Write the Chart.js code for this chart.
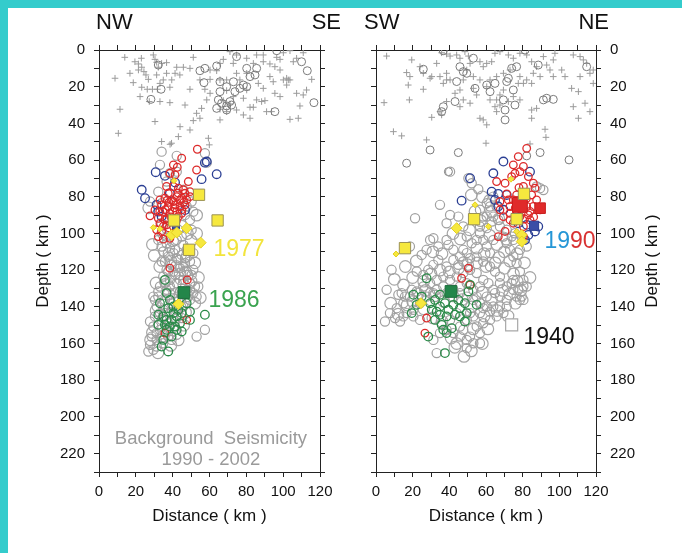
<!DOCTYPE html>
<html>
<head>
<meta charset="utf-8">
<script src="https://cdn.jsdelivr.net/npm/chart.js@4.4.1/dist/chart.umd.min.js"></script>
<style>
  html, body { margin: 0; padding: 0; background: #ffffff; }
  #wrap { position: relative; width: 682px; height: 553px; overflow: hidden; background: #ffffff; }
  .bandTop { position: absolute; left: 0; top: 0; width: 682px; height: 8px; background: rgb(52, 204, 204); }
  .bandLeft { position: absolute; left: 0; top: 0; width: 8px; height: 553px; background: rgb(52, 204, 204); }
  canvas { position: absolute; top: 0; }
  #cL { left: 0; }
  #cR { left: 341px; }
</style>
</head>
<body>
<div id="wrap">
  <div class="bandTop"></div>
  <div class="bandLeft"></div>
  <canvas id="cL" width="341" height="553"></canvas>
  <canvas id="cR" width="341" height="553"></canvas>
</div>
<script>
// ---------- axis ticks ----------
const distanceTicks = [0, 10, 20, 30, 40, 50, 60, 70, 80, 90, 100, 110, 120];
const depthTicks = [0, 10, 20, 30, 40, 50, 60, 70, 80, 90, 100, 110, 120, 130, 140, 150, 160, 170, 180, 190, 200, 210, 220, 230];

// ---------- NW - SE section (left panel) ----------
const nwCrosses = [[14,4],[23,4.5],[29.5,2.7],[30.4,5.1],[31.3,6.7],[34,7.3],[19.5,6.4],[21.4,7.6],[23.2,9.4],[24.4,11.8],[25.5,13.6],[16.8,12.7],[8.7,15.4],[18.6,17.8],[23.2,20.3],[26.2,21.4],[29,21.4],[31.7,21.4],[33.1,18.2],[36.7,12.7],[41.3,12.7],[34.9,16.3],[38.5,20.3],[11.4,32.3],[10.5,45.4],[30.4,39],[33.1,28.1],[38.5,28.7],[46.7,30],[49.4,21.4],[49.4,10],[45.8,9.4],[43.9,13.6],[51.2,4],[44,41.8],[49.4,43.6],[39.4,50.8],[43.1,47.2],[34,49.9],[59.4,48.1],[59.9,51.7],[53,34.5],[54.8,37.2],[51.2,38.5],[58.5,27.2],[60.3,23.6],[57.5,21.4],[55.7,31.8],[65.7,38.1],[69.3,33.6],[74.7,32.7],[78.4,35.4],[82,37.2],[83.8,31.2],[88.3,28.1],[90.1,27.6],[91,33.6],[93.7,33.6],[98.3,25.4],[103.7,37.8],[108.2,37.2],[109.1,30.5],[110.9,24.5],[112.7,21.8],[115.5,16],[103.7,16.3],[101.9,15.4],[100.1,16.3],[98.3,10.9],[92.8,14.5],[89.2,6.4],[89.2,2.7],[92.8,7.6],[95.5,9.1],[98.3,5.1],[105.5,6.4],[107.3,4.5],[110.9,1.5],[103.7,0.4],[100.1,1.5],[96.5,4],[85.6,2.7],[83.8,7.3],[80.2,4.5],[74.7,2.7],[71.1,0.9],[67.5,5.1],[65.7,7.3],[63.9,11.3],[60.3,16],[65.7,16.3],[69.3,16.3],[74.7,12.7],[76.5,16.3],[80.2,21.8],[72.9,25.4],[69.3,22.1],[67.5,27.6],[71.1,29.4],[65.7,32.3],[78.4,26.3],[82,31.2],[85.6,27.2],[21.4,10.9],[26.8,16],[31.3,13.6],[36.7,6.9],[32.2,9.4],[42.2,9.4],[39.5,16.3],[22.3,25.4],[27.3,28.1],[54.8,16.3],[60.3,10.9],[72.9,7.3],[80.2,12.7],[86.5,18.2],[89.2,20.9],[95.5,23.6],[101.9,19.1],[107.3,23.6],[94.6,17.3],[102.8,16.3],[38.6,51.4]];
const nwShallowCircles = [[54.8,11.3],[57.5,10],[63.9,8.7],[57,17.8],[65.7,17.3],[65.7,22.7],[69.3,20],[73.8,22.7],[76.5,20.9],[78.4,19.1],[82,14.5],[80.2,10],[84.7,13.6],[85.6,10],[74.7,3.6],[64.8,27.2],[63.9,31.8],[66.6,29],[69.3,30.5],[71.1,28.1],[72,30],[69.3,32.7],[95.5,33.6],[96.5,0.4],[110,6.4],[113.1,11.3],[116.7,28.7],[33.7,21.4],[28.2,26.9],[32.2,8.2],[73,17.3],[80.2,20]];
const nwGrayCircles = [[34,55.4],[42.2,57.7],[57.5,56.3],[58.5,61.4],[33.1,62.6],[38.5,67.2],[42.2,66.3],[32.2,77.2],[27.7,82.6],[51.2,88.1],[49.4,92.6],[32.2,103.5],[34,107.1],[36.7,105.3],[38.5,108],[42.2,103.5],[45.8,106.2],[34.9,109.8],[37.6,112.6],[40.4,110.7],[44.9,111.7],[47.6,108.9],[51.2,110.7],[35.8,115.3],[39.4,117.1],[43.1,114.4],[46.7,116.2],[49.4,115.3],[36.7,119.8],[40.4,120.7],[44,118.9],[47.6,120.7],[50.3,122.6],[34.9,123.5],[38.5,125.3],[42.2,127.1],[45.8,125.3],[49.4,127.1],[52.1,128.9],[33.1,128.9],[36.7,130.7],[40.4,132.5],[44,131.6],[47.6,130.7],[51.2,132.5],[32.2,134.4],[35.8,136.2],[39.4,138],[43.1,137.1],[49.4,136.2],[53,134.4],[31.3,139.8],[34.9,141.6],[38.5,143.4],[42.2,141.6],[45.8,139.8],[30.4,145.2],[34,147.1],[37.6,148.9],[41.3,147.9],[44.9,146.1],[29.5,150.7],[33.1,152.5],[36.7,153.4],[40.4,151.6],[28.6,156.2],[31.3,158],[34,157.1],[37.6,156.2],[27.7,160.7],[31.3,161.6],[34.9,159.8],[26.8,164.3],[29.5,163.4],[53,156.2],[57.5,152.5],[53.9,128.9],[32.2,131.6],[29.5,134.4],[34,83.5],[47.6,85.3],[50.3,82.6],[45.8,76.2],[36.7,71.7],[34,94.4],[46.7,89.9],[50.3,98],[34,99.9],[36.7,101.7],[43.1,98],[44.9,101.7],[41.3,108.9],[42.2,113.5],[45.8,118],[41.3,122.5],[35.8,127.1],[48.5,122.6],[38.5,128.9],[42.5,134.4],[33.1,143.4],[36.7,147.1],[39.4,158],[42.2,155.2],[31.3,154.3],[27.7,148],[30.4,136.2],[44,125.3],[37.6,120.7],[46.7,113.5],[34,115.3],[51.2,119.8],[49.4,130.7]];
const nwGrayLarge = [[30,112],[33,118],[48,112],[52,116],[54,124],[50,126],[46,128],[38,133],[35,139],[40,136],[44,140],[48,134],[52,138],[31,142],[36,144],[42,144],[46,150],[33,150],[29,154],[35,156],[39,161],[28,158],[32,165],[43,158],[47,143],[50,104],[37,97],[45,96],[53,100],[29,106],[40,104],[48,100],[39,115],[44,122],[36,126],[42,118],[31,127],[55,135],[47,121],[38,111],[27,86],[53,90]];
const nwRedCircles = [[44.9,59],[53.4,54.1],[40.4,62.6],[42.5,63.9],[41.3,68.1],[38.5,67.2],[48.5,71.7],[53,65.4],[40.4,74.4],[43.1,75.3],[45.8,76.2],[49.4,77.2],[37.6,78.1],[35.8,80.8],[39.4,81.7],[42.2,79.9],[44.9,80.8],[47.6,81.7],[34,84.4],[37.6,85.3],[41.3,84.4],[44,85.3],[46.7,84.4],[34.9,88.1],[38.5,89],[42.2,88.1],[44.9,89],[27.7,90.4],[32.2,91.7],[35.8,92.6],[33.1,94.4],[36.7,95.3],[31.3,98],[34,98.9],[32.2,101.7],[34.9,103.1],[38.5,102.6],[40.4,82.6],[43.1,90.8],[36.7,74.4],[38.5,118.9],[47.9,125.3],[47.6,147.1],[35.8,154.3],[33.1,81.7],[46.7,78.1],[49.4,79.9],[30.4,87.2],[40.4,96.2],[38,83],[41,86],[44,82],[36,87],[39,91],[42,93],[37,92],[35,96],[38,97],[40,88],[43,78],[46,83],[33,88],[37,82],[45,87]];
const nwBlueCircles = [[23.2,76.2],[25,80.8],[30.8,66.6],[35.8,68.6],[55.7,70.4],[63.9,67.7],[57.5,61.4],[31.3,84.4],[32.2,88.1],[46.7,87.2],[38.5,78.1],[34,90.8],[41.3,72.2],[58.5,60.8]];
const nwGreenCircles = [[35.8,125.3],[36.7,132.5],[33.1,138],[32.2,144.3],[37.6,140.7],[40.4,143.4],[43.1,141.6],[39.4,147.1],[42.2,145.2],[44.9,143.4],[36.7,147.1],[38.5,150.7],[35.8,149.8],[41.3,150.7],[44,148.9],[36.7,152.5],[39.4,156.2],[34,161.6],[37.6,164.3],[34.9,158],[57.5,144.3],[49.4,142.5],[47.6,138],[42.2,152.5],[38.5,136.2],[34.9,145.2],[32.2,149.8],[40.4,139.8],[49.4,147.1],[44.9,153.4]];
const nwYellowSquares = [[54.3,78.9],[64.4,92.9],[40.7,92.9],[48.9,108.9]];
const nwYellowDiamonds = [[47.6,97.1],[55.2,105],[39.4,100.8],[42.2,99.5],[43.1,138.5]];
const nwSmallDiamonds = [[40.7,71.2],[29.5,96.8],[33.1,97.5]];
const nwGreenSquare = [[46.1,132.2]];
const nwBlueSquare = [[41.8,95.5]];

// ---------- SW - NE section (right panel) ----------
const swCrosses = [[5.8,3.3],[19.5,5.4],[16.7,12.3],[18.5,14.5],[17.6,19.1],[25.8,21.4],[4.4,28.7],[18.2,27.2],[24,9.1],[30.4,14.5],[33.1,7.3],[34.9,14.5],[36.7,18.2],[38.5,16.3],[40.4,16.3],[35.8,1.5],[38.5,2.2],[40.4,3.3],[44,2.7],[45.8,4.5],[48.5,0.9],[50.4,3.3],[51.3,7.3],[49.5,10.9],[53.1,14.5],[56.7,6.4],[58.5,9.1],[60.4,7.3],[63.1,6.4],[64.9,1.8],[67.6,0.9],[72.2,2.7],[74.9,4.5],[78.5,1.8],[82.2,2.7],[84.9,6.4],[87.6,9.1],[91.3,3.6],[93.1,8.2],[94.9,10.9],[96.7,5.4],[97.6,1.8],[101.3,10.9],[103.1,14.5],[107.6,2.7],[111.3,3.6],[113.1,5.4],[114.9,7.3],[116.7,12.7],[118.5,10.9],[111.3,14.5],[110.4,22.7],[106.7,20.9],[107.6,30.9],[110.4,37.2],[114,29],[116.7,33.6],[118.5,18.2],[96.7,14.5],[89.5,14.5],[84.9,18.2],[82.2,16.3],[77.6,18.2],[74.9,25.4],[72.2,28.1],[67.6,30],[64.9,30.9],[65.8,33.6],[62.2,27.2],[54.9,24.5],[56.7,37.2],[60.4,40.8],[58.5,38.1],[45.8,30.9],[47.6,27.2],[51.3,29],[38.5,28.1],[34.9,33.6],[30.4,36.7],[35.8,35.4],[43.1,23.6],[45.8,21.8],[53.1,20.9],[60.4,20],[62.2,16.3],[65.8,14.5],[69.5,12.7],[73.1,10.9],[78.5,14.5],[80.4,18.2],[85.8,12.7],[69.5,21.8],[67.6,24.5],[65.8,27.2],[78.5,27.2],[84.9,37.2],[92.2,43.2],[92.7,47.6],[27.6,49],[9.5,44.5],[14,46.8],[60,50.8],[84,51.2],[84.9,32.7],[87.6,31.8],[25.8,12.7],[29.5,15.4],[38.5,12.7],[47.6,16.3],[56.7,16.3]];
const swShallowCircles = [[25.8,10.5],[45.8,9.1],[47.6,11.8],[44,17.2],[43.1,28.1],[36.7,30.9],[35.8,33.6],[49.5,12.7],[54,20.9],[62.2,22.7],[60.4,19.1],[64.9,18.2],[71.3,17.2],[72.2,15.4],[74,10],[76.7,9.1],[74.9,21.8],[75.8,30],[69.5,27.2],[70.4,32.7],[70.4,38.1],[88.5,8.2],[81.3,0],[93.1,26.3],[96.7,26.9],[91.3,27.2],[114.9,9.1],[36.7,0.4],[53.1,4.5],[29.5,54.5],[44.9,55.9],[16.7,61.7],[39.5,66.3],[82.2,57.7],[89.5,55.9],[105.3,59.9]];
const swGrayCircles = [[56.7,87.1],[60.4,83.5],[62.2,85.3],[58.5,90.8],[64,79.9],[65.8,85.3],[63.1,93.5],[60.4,97.1],[56.7,96.2],[67.6,96.2],[69.5,101.7],[71.3,105.3],[73.1,108.9],[74.9,112.6],[76.7,116.2],[78.5,120.7],[80.4,125.3],[82.2,128.9],[78.5,108.9],[74.9,103.5],[75.8,99.9],[80.4,103.5],[82.2,107.1],[87.6,74.4],[89.5,75.3],[91.3,76.3],[56.7,99.9],[54.9,103.5],[58.5,103.5],[60.4,107.1],[62.2,110.7],[64,103.5],[52.2,105.3],[49.5,110.7],[47.6,108.9],[45.8,112.6],[42.2,108.9],[39.5,106.2],[38.5,103.5],[38.5,94.4],[40.4,89.9],[44.9,90.8],[34.9,84.4],[55.8,75.9],[52.2,72.6],[50.4,69.9],[40.4,66.3],[21.3,91.7],[29.5,103.5],[31.3,102.6],[34,107.1],[24.9,111.7],[27.6,108.9],[18.5,107.1],[8.5,119.8],[5.8,130.7],[12.2,133.4],[14,132.5],[15.8,134.4],[19.5,130.7],[22.2,120.7],[25.8,122.6],[28.5,119.8],[31.3,117.1],[34,114.4],[38.5,118],[42.2,114.4],[44.9,117.1],[47.6,115.3],[51.3,113.5],[54.9,112.6],[58.5,115.3],[62.2,118],[64.9,120.7],[67.6,123.5],[71.3,128.9],[74.9,130.7],[76.7,134.4],[78.5,136.2],[71.3,136.2],[67.6,134.4],[64,130.7],[61.3,127.1],[58.5,125.3],[54.9,121.6],[51.3,119.8],[47.6,121.6],[44,123.5],[40.4,125.3],[36.7,123.5],[33.1,125.3],[29.5,127.1],[25.8,128.9],[22.2,131.6],[18.5,134.4],[14.9,138],[11.3,140.7],[7.6,143.4],[4.9,148],[10.4,146.1],[14.9,145.2],[20.4,141.6],[24,138],[27.6,134.4],[31.3,132.5],[38.5,132.5],[45.8,132.5],[49.5,134.4],[53.1,136.2],[56.7,138],[60.4,139.8],[64,139.8],[67.6,139.8],[71.3,139.8],[56.7,143.4],[53.1,145.2],[49.5,147.1],[45.8,150.7],[42.2,154.3],[38.5,152.5],[34.9,154.3],[31.3,158],[33.1,165.2],[47.6,152.5],[51.3,156.2],[53.1,159.8],[54.9,150.7],[58.5,148.9],[62.2,147.1],[65.8,145.2],[69.5,143.4],[51.3,143.4],[24,147.1],[20.4,145.2],[16.7,143.4],[13.1,148],[44,143.4],[40.4,147.1],[49.5,158],[56.7,154.3],[74,127.1],[77.6,130.7],[80.4,136.2],[74.9,125.3],[67.6,127.1],[64.9,132.5],[56.7,128.9],[53.1,130.7],[49.5,127.1],[45.8,128.9],[42.2,130.7],[36.7,128.9],[33.1,130.7],[29.5,132.5],[54.9,134.4],[60.4,134.4],[58.5,140.7],[62.2,142.6],[45.8,156.2],[49.5,162.5],[56.7,159.8],[80.4,128.9],[79.5,134.4],[49.5,101.7],[47.6,96.2],[60.4,90.8],[64,90.8],[66.7,92.6],[71.3,98],[74,101.7]];
const swGrayLarge = [[10,125],[15,128],[20,124],[26,126],[30,122],[35,120],[40,121],[45,119],[50,117],[55,116],[60,118],[65,116],[70,119],[75,122],[77,126],[73,133],[69,131],[63,136],[58,132],[52,140],[47,136],[42,134],[37,137],[32,134],[27,131],[23,133],[17,139],[12,144],[8,138],[20,137],[26,141],[31,146],[36,148],[41,157],[44,160],[53,152],[59,145],[66,142],[72,145],[61,152],[58,160],[52,164],[48,167],[43,162],[55,108],[59,111],[66,106],[70,110],[73,115],[67,113],[62,101],[57,93],[63,88],[67,92],[71,103],[77,111],[81,116],[79,131],[84,124],[76,138],[22,115],[16,118],[36,111],[31,110],[46,103],[42,100],[51,98],[54,88],[58,80],[62,82],[52,79]];
const swRedCircles = [[82.2,53.6],[77.6,58.1],[74.9,62.6],[78.5,66.3],[80.4,63.5],[75.8,67.2],[70.4,72.6],[65.8,71.7],[74,69],[83.1,69],[85.8,72.6],[86.7,75.3],[84.9,79],[87.6,81.7],[89.5,87.1],[82.2,85.3],[74.9,81.7],[73.1,85.3],[76.7,88.1],[67.6,87.1],[66.7,101.7],[70.4,98.9],[80.4,96.2],[84,92.6],[69.5,90.8],[73.1,92.6],[80.4,101.7],[50.4,118.9],[46.7,124.4],[51.3,128],[27.6,146.1],[26.7,154.3],[72.2,81.7],[76.7,79],[80.4,74.4],[83.1,89.9],[71.3,78.4],[67.6,82.6],[85.8,85.3],[78.5,90.8],[74.9,94.4],[77,82],[79,87],[82,81],[84,88],[81,92],[76,86],[73,89],[78,75],[81,78],[86,91]];
const swBlueCircles = [[69.5,60.8],[64,67.2],[51.3,69.9],[63.1,77.2],[46.7,82.1],[64.9,81.7],[71.3,79],[66.7,85.3],[84,66.3],[82.2,95.3],[86.7,98.9],[83.1,100.8],[81.3,103.5],[77.6,94.4],[69.5,87.1],[66.7,78.4],[88.5,96.2]];
const swGreenCircles = [[27.6,124.4],[20.4,133.4],[19.5,143.4],[29.5,138],[32.2,136.2],[34.9,139.8],[37.6,138],[39.5,141.6],[42.2,138.9],[44.9,136.2],[48.5,138],[49.5,143.4],[45.8,145.2],[43.1,144.3],[38.5,145.2],[34.9,144.3],[33.1,142.6],[32.2,147.1],[35.8,149.8],[36.7,152.5],[38.5,154.3],[41.3,151.6],[50.4,131.6],[51.3,128],[54.9,138.9],[48.5,148],[28.5,156.2],[37.6,165.2],[22.2,138.9],[24.9,134.4],[34.9,133.4],[45.8,140.7],[30.4,141.6]];
const swYellowSquares = [[80.7,78.4],[76.7,92.2],[53.5,92.2],[15.8,108]];
const swYellowDiamonds = [[44,97.1],[79.5,100.8],[79.5,104.4],[24.5,138]];
const swSmallDiamonds = [[76.7,98.9],[73.6,70.4],[61.3,96.2],[54,84.4],[10.9,111.2]];
const swRedSquareBig = [[78.5,84.4]];
const swRedSquare = [[89.5,86.2]];
const swBlueSquare = [[86.2,95.8]];
const swGreenSquare = [[40.9,131.6]];
const swWhiteSquare1940 = [[74,149.8]];

// ---------- helpers ----------
const FONT = "'Liberation Sans', Arial, Helvetica, sans-serif";
const pts = a => a.map(p => ({ x: p[0], y: p[1] }));

function ds(data, style) {
  return Object.assign({ data: pts(data), showLine: false, pointHoverRadius: 0 }, style);
}
const NONE = 'rgba(0,0,0,0)';
const S = {
  cross:   { pointStyle: 'cross', pointRadius: 3.3, borderColor: '#9a9a9a', borderWidth: 1, backgroundColor: '#9a9a9a' },
  shallow: { pointStyle: 'circle', pointRadius: 4, borderColor: '#7a7a7a', borderWidth: 1, backgroundColor: NONE },
  gray:    { pointStyle: 'circle', pointRadius: 4.6, borderColor: '#a0a0a0', borderWidth: 1.2, backgroundColor: NONE },
  grayL:   { pointStyle: 'circle', pointRadius: 5.8, borderColor: '#a6a6a6', borderWidth: 1.2, backgroundColor: NONE },
  red:     { pointStyle: 'circle', pointRadius: 3.8, borderColor: '#dd2a2a', borderWidth: 1.3, backgroundColor: NONE },
  blue:    { pointStyle: 'circle', pointRadius: 4.3, borderColor: '#2b3f94', borderWidth: 1.3, backgroundColor: NONE },
  green:   { pointStyle: 'circle', pointRadius: 4.3, borderColor: '#2a8a48', borderWidth: 1.3, backgroundColor: NONE },
  ysq:     { pointStyle: 'rect', pointRadius: 8, borderColor: '#9b9255', borderWidth: 1, backgroundColor: '#f6e83e' },
  ydia:    { pointStyle: 'rectRot', pointRadius: 5.5, borderColor: '#e3cf20', borderWidth: 1, backgroundColor: '#f6e83e' },
  ydiaS:   { pointStyle: 'rectRot', pointRadius: 3, borderColor: '#e3cf20', borderWidth: 1, backgroundColor: '#f6e83e' },
  gsq:     { pointStyle: 'rect', pointRadius: 8.3, borderColor: '#1d6e3c', borderWidth: 1, backgroundColor: '#23864a' },
  rsqB:    { pointStyle: 'rect', pointRadius: 10.5, borderColor: '#c81f1f', borderWidth: 1, backgroundColor: '#e02a2a' },
  rsq:     { pointStyle: 'rect', pointRadius: 7.5, borderColor: '#c81f1f', borderWidth: 1, backgroundColor: '#e02a2a' },
  bsq:     { pointStyle: 'rect', pointRadius: 6.5, borderColor: '#2b3f94', borderWidth: 1, backgroundColor: '#3a4ea6' },
  bsqS:    { pointStyle: 'rect', pointRadius: 5, borderColor: '#2b3f94', borderWidth: 1, backgroundColor: '#3a4ea6' },
  wsq:     { pointStyle: 'rect', pointRadius: 8.5, borderColor: '#a8a8a8', borderWidth: 1.2, backgroundColor: '#ffffff' }
};

const tickCb = v => (v % 20 === 0 ? String(v) : '');
const gridOpt = { display: true, drawOnChartArea: false, drawTicks: true, tickLength: 5, color: '#222', lineWidth: 1 };
const borderOpt = { display: true, color: '#222', width: 1 };
const tickFont = { family: FONT, size: 15 };
const titleFont = { family: FONT, size: 17 };
const setTicks = list => s => { s.ticks = list.map(v => ({ value: v })); };

function makeScales(side) {
  const labelled = side === 'left' ? 'left' : 'right';
  const other = side === 'left' ? 'right' : 'left';
  const wLab = side === 'left' ? 99 : 86;
  const wOther = side === 'left' ? 21 : 35;
  return {
    x: {
      type: 'linear', position: 'bottom', min: 0, max: 120,
      afterBuildTicks: setTicks(distanceTicks),
      ticks: { autoSkip: false, maxRotation: 0, color: '#111', font: tickFont, padding: 6, callback: tickCb },
      grid: gridOpt, border: borderOpt,
      title: { display: true, text: 'Distance ( km )', color: '#111', font: titleFont, padding: { top: 0, bottom: 26 } },
      afterFit: s => { s.height = 81; }
    },
    xTop: {
      type: 'linear', position: 'top', min: 0, max: 120,
      afterBuildTicks: setTicks(distanceTicks),
      ticks: { display: false },
      grid: gridOpt, border: borderOpt,
      afterFit: s => { s.height = 50; }
    },
    y: {
      type: 'linear', position: labelled, reverse: true, min: 0, max: 230,
      afterBuildTicks: setTicks(depthTicks),
      ticks: { autoSkip: false, color: '#111', font: tickFont, padding: 9, callback: tickCb },
      grid: gridOpt, border: borderOpt,
      title: { display: side === 'left', text: 'Depth ( km )', color: '#111', font: titleFont, padding: { top: 33, bottom: 0 } },
      afterFit: s => { s.width = wLab; }
    },
    yOther: {
      type: 'linear', position: other, reverse: true, min: 0, max: 230,
      afterBuildTicks: setTicks(depthTicks),
      ticks: { display: false },
      grid: gridOpt, border: borderOpt,
      afterFit: s => { s.width = wOther; }
    }
  };
}

// text annotations anchored to data coordinates or to the plot frame
function annotPlugin(items) {
  return {
    id: 'annot',
    afterDraw(chart) {
      const { ctx, chartArea, scales } = chart;
      ctx.save();
      ctx.textBaseline = 'middle';
      for (const t of items) {
        ctx.font = `${t.size}px ${FONT}`;
        let px, py;
        if (t.at) {
          px = scales.x.getPixelForValue(t.at[0]);
          py = scales.y.getPixelForValue(t.at[1]);
        } else {
          px = (t.edge === 'left' ? chartArea.left : chartArea.right) + t.dx;
          py = chartArea.top + t.dy;
        }
        if (t.rotate) {
          ctx.save();
          ctx.translate(px, (chartArea.top + chartArea.bottom) / 2);
          ctx.rotate(-Math.PI / 2);
          ctx.textAlign = 'center';
          ctx.fillStyle = t.parts[0].color;
          ctx.fillText(t.parts[0].text, 0, 0);
          ctx.restore();
          continue;
        }
        const widths = t.parts.map(p => ctx.measureText(p.text).width);
        const total = widths.reduce((a, b) => a + b, 0);
        let x0 = t.align === 'left' ? px : t.align === 'right' ? px - total : px - total / 2;
        ctx.textAlign = 'left';
        t.parts.forEach((p, i) => {
          ctx.fillStyle = p.color;
          ctx.fillText(p.text, x0, py);
          x0 += widths[i];
        });
      }
      ctx.restore();
    }
  };
}

function makeChart(id, side, datasets, items) {
  return new Chart(document.getElementById(id), {
    type: 'scatter',
    data: { datasets },
    options: {
      responsive: false, animation: false, devicePixelRatio: 1,
      layout: { padding: 0 },
      plugins: { legend: { display: false }, tooltip: { enabled: false } },
      events: [],
      scales: makeScales(side)
    },
    plugins: [annotPlugin(items)]
  });
}

// left: NW-SE
makeChart('cL', 'left', [
  ds(nwYellowSquares, S.ysq),
  ds(nwGreenSquare, S.gsq),
  ds(nwYellowDiamonds, S.ydia),
  ds(nwSmallDiamonds, S.ydiaS),
  ds(nwBlueSquare, S.bsqS),
  ds(nwGreenCircles, S.green),
  ds(nwRedCircles, S.red),
  ds(nwBlueCircles, S.blue),
  ds(nwGrayCircles, S.gray),
  ds(nwGrayLarge, S.grayL),
  ds(nwShallowCircles, S.shallow),
  ds(nwCrosses, S.cross)
], [
  { parts: [{ text: 'NW', color: '#111' }], size: 22, edge: 'left', dx: -3, dy: -27, align: 'left' },
  { parts: [{ text: 'SE', color: '#111' }], size: 22, edge: 'right', dx: 21, dy: -27, align: 'right' },
  { parts: [{ text: '1977', color: '#f2e43c' }], size: 23, at: [76, 108.9], align: 'center' },
  { parts: [{ text: '1986', color: '#3aa34f' }], size: 23, at: [73.3, 136.7], align: 'center' },
  { parts: [{ text: 'Background  Seismicity', color: '#9a9a9a' }], size: 18.5, at: [60.8, 212.2], align: 'center' },
  { parts: [{ text: '1990 - 2002', color: '#9a9a9a' }], size: 18.5, at: [60.8, 223.5], align: 'center' }
]);

// right: SW-NE
makeChart('cR', 'right', [
  ds(swYellowSquares, S.ysq),
  ds(swGreenSquare, S.gsq),
  ds(swWhiteSquare1940, S.wsq),
  ds(swYellowDiamonds, S.ydia),
  ds(swSmallDiamonds, S.ydiaS),
  ds(swRedSquareBig, S.rsqB),
  ds(swRedSquare, S.rsq),
  ds(swBlueSquare, S.bsq),
  ds(swGreenCircles, S.green),
  ds(swRedCircles, S.red),
  ds(swBlueCircles, S.blue),
  ds(swGrayCircles, S.gray),
  ds(swGrayLarge, S.grayL),
  ds(swShallowCircles, S.shallow),
  ds(swCrosses, S.cross)
], [
  { parts: [{ text: 'SW', color: '#111' }], size: 22, edge: 'left', dx: -12, dy: -27, align: 'left' },
  { parts: [{ text: 'NE', color: '#111' }], size: 22, edge: 'right', dx: 13, dy: -27, align: 'right' },
  { parts: [{ text: '19', color: '#2596d6' }, { text: '90', color: '#d83232' }], size: 23, at: [105.8, 104.2], align: 'center' },
  { parts: [{ text: '1940', color: '#111' }], size: 23, at: [94.4, 157], align: 'center' },
  { parts: [{ text: 'Depth ( km )', color: '#111' }], size: 17, rotate: true, edge: 'right', dx: 56, dy: 0 }
]);
</script>
</body>
</html>
